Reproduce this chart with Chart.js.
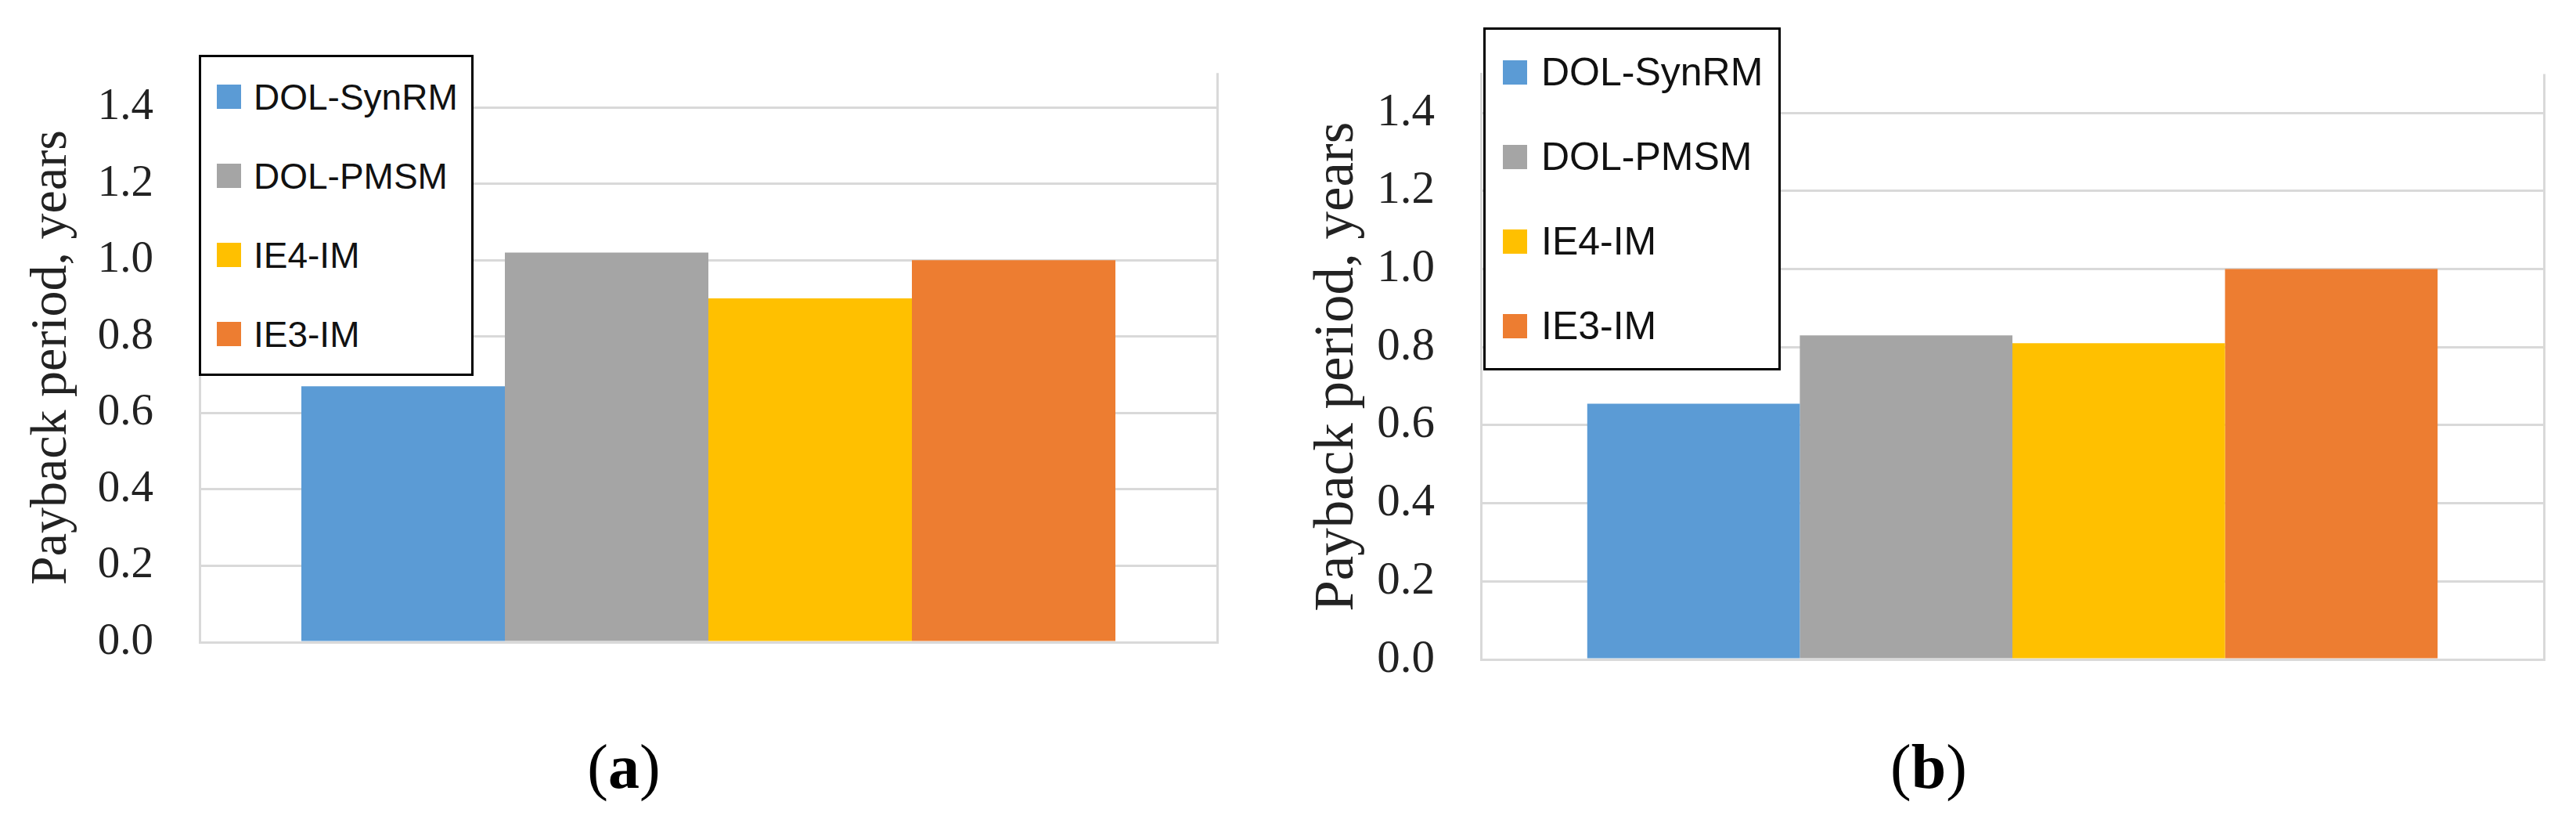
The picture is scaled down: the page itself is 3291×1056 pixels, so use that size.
<!DOCTYPE html>
<html>
<head>
<meta charset="utf-8">
<script src="https://cdn.jsdelivr.net/npm/chart.js@4"></script>
<style>
  html, body { margin: 0; padding: 0; background: #fff; }
  body { width: 3291px; height: 1056px; position: relative; overflow: hidden; }
  .panel { position: absolute; top: 0; height: 1056px; }
  .legend { position: absolute; background: #fff; border: 3px solid #000; box-sizing: border-box;
            font-family: "Liberation Sans", Arial, sans-serif; color: #111; }
  .legend .row { display: flex; align-items: center; }
  .legend .sw { flex: none; }
  .caption { position: absolute; font-family: "Liberation Serif", "Times New Roman", serif;
             color: #000; transform: translateX(-50%); white-space: nowrap; }
</style>
</head>
<body>
<div class="panel" id="pa" style="left:0;width:1645px"><canvas id="ca" width="1645" height="1056"></canvas></div>
<div class="panel" id="pb" style="left:1645px;width:1646px"><canvas id="cb" width="1646" height="1056"></canvas></div>
<div class="caption" style="left:797px;top:934px;font-size:80px">(<b>a</b>)</div>
<div class="caption" style="left:2464px;top:934px;font-size:80px">(<b>b</b>)</div>
<script>
// motor types (one dataset each, a single unnamed category)
const motors = ['DOL-SynRM', 'DOL-PMSM', 'IE4-IM', 'IE3-IM'];
const colors = ['#5B9BD5', '#A5A5A5', '#FFC000', '#ED7D31'];
// payback period, years
const paybackA = [0.67, 1.02, 0.90, 1.00];
const paybackB = [0.655, 0.83, 0.81, 1.00];
const yTickStep = 0.2;
const yTitle = 'Payback period, years';

const gridCol = '#d9d9d9';

function makeChart(canvasId, values, o) {
  return new Chart(document.getElementById(canvasId).getContext('2d'), {
    type: 'bar',
    data: {
      labels: [''],
      datasets: motors.map((m, i) => ({
        label: m,
        data: [values[i]],
        backgroundColor: colors[i],
        borderWidth: 0,
        categoryPercentage: 0.8,
        barPercentage: 1.0
      }))
    },
    options: {
      responsive: false,
      animation: false,
      devicePixelRatio: 1,
      layout: { padding: o.padding },
      plugins: { legend: { display: false }, tooltip: { enabled: false } },
      scales: {
        x: {
          ticks: { display: false },
          grid: { display: true, color: gridCol, lineWidth: 3, drawTicks: false },
          border: { display: true, color: gridCol, width: 3 }
        },
        y: {
          min: 0,
          max: o.max,
          afterFit: s => { s.width = o.axisWidth; },
          ticks: {
            stepSize: yTickStep,
            includeBounds: false,
            padding: 59,
            color: '#222',
            font: { family: '"Liberation Serif", "Times New Roman", serif', size: o.tickSize },
            callback: v => Number(v).toFixed(1)
          },
          grid: { color: gridCol, lineWidth: 3, drawTicks: false },
          border: { display: true, color: gridCol, width: 3 },
          title: {
            display: true,
            text: yTitle,
            color: '#222',
            padding: { top: o.titlePad, bottom: 0 },
            font: { family: '"Liberation Serif", "Times New Roman", serif', size: o.titleSize, lineHeight: 1.2 }
          }
        }
      }
    }
  });
}

function makeLegend(panelId, L) {
  const box = document.createElement('div');
  box.className = 'legend';
  Object.assign(box.style, { left: L.left + 'px', top: L.top + 'px', width: L.width + 'px',
    paddingLeft: L.padLeft + 'px', paddingTop: L.padTop + 'px', fontSize: L.font + 'px' });
  motors.forEach((m, i) => {
    const row = document.createElement('div');
    row.className = 'row';
    row.style.height = L.rowH + 'px';
    const sw = document.createElement('span');
    sw.className = 'sw';
    Object.assign(sw.style, { width: '31px', height: '31px', background: colors[i], marginRight: L.gap + 'px' });
    const tx = document.createElement('span');
    tx.textContent = m;
    row.appendChild(sw);
    row.appendChild(tx);
    box.appendChild(row);
  });
  box.style.height = (L.padTop + L.rowH * motors.length + 6) + 'px';
  document.getElementById(panelId).appendChild(box);
}

makeChart('ca', paybackA, {
  padding: { left: 0, right: 90, top: 78, bottom: 236 },
  max: 1.49, axisWidth: 255, tickSize: 57, titleSize: 66, titlePad: 27
});
makeChart('cb', paybackB, {
  padding: { left: 0, right: 41, top: 46, bottom: 214 },
  max: 1.5, axisWidth: 247, tickSize: 59, titleSize: 71, titlePad: 22
});

makeLegend('pa', { left: 254, top: 70, width: 351, padLeft: 20, padTop: 0, rowH: 101, gap: 16, font: 46 });
makeLegend('pb', { left: 250, top: 35, width: 380, padLeft: 22, padTop: 0, rowH: 108, gap: 18, font: 50 });
</script>
</body>
</html>
